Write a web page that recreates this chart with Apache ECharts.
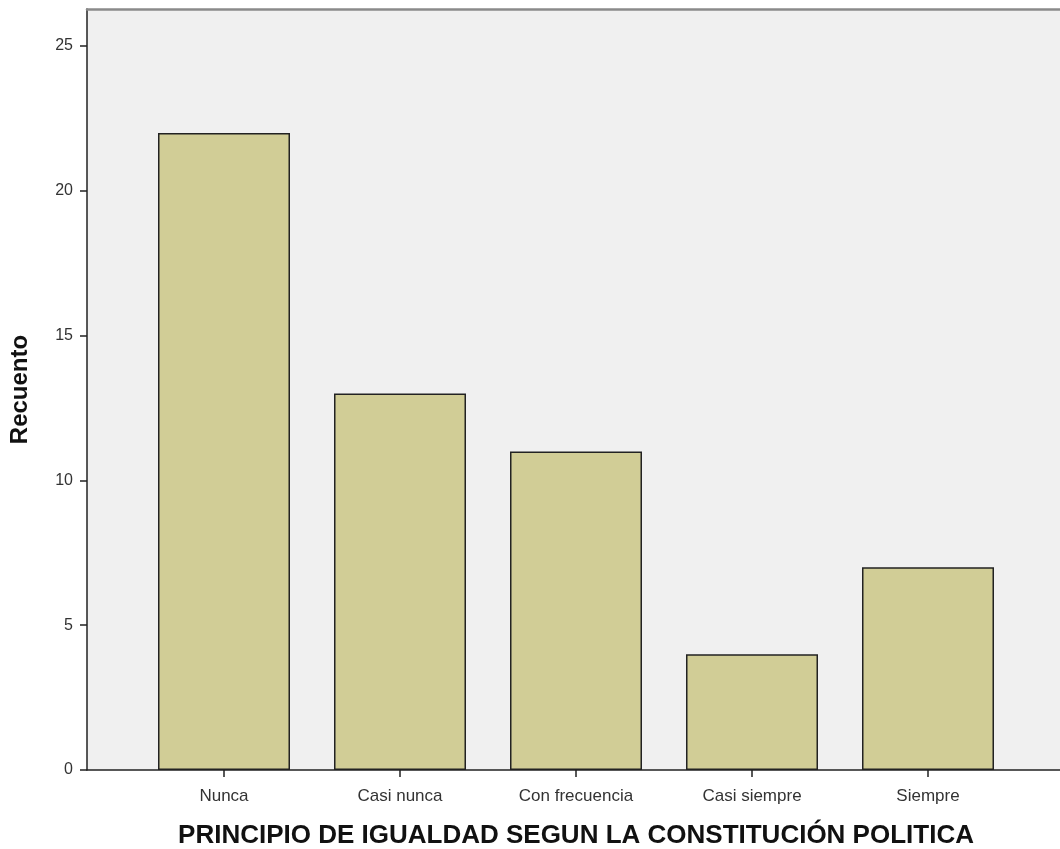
<!DOCTYPE html>
<html><head><meta charset="utf-8">
<script src="https://cdn.jsdelivr.net/npm/echarts@6/dist/echarts.min.js"></script>
<style>html,body{margin:0;padding:0;background:#fff}#c{width:1060px;height:849px}</style>
</head><body><div id="c"></div>
<script>
const categories = ['Nunca', 'Casi nunca', 'Con frecuencia', 'Casi siempre', 'Siempre'];
const counts = [22, 13, 11, 4, 7];
const yTicks = [0, 5, 10, 15, 20, 25];
const yMax = 26.28;
const xTitle = 'PRINCIPIO DE IGUALDAD SEGUN LA CONSTITUCIÓN POLITICA';
const yTitle = 'Recuento';

const chart = echarts.init(document.getElementById('c'));
const font = 'Liberation Sans, Arial, sans-serif';
chart.setOption({
  animation: false,
  grid: [
    {left: 136, right: 44, top: 9, bottom: 79, show: false, containLabel: false, outerBoundsMode: 'none'},
    {left: 87, right: -5, top: 9, bottom: 79, show: true, backgroundColor: '#f0f0f0', borderWidth: 0, z: 0, containLabel: false, outerBoundsMode: 'none'}
  ],
  xAxis: [
    {type: 'category', gridIndex: 0, data: categories,
     axisLine: {show: false},
     axisTick: {show: true, alignWithLabel: true, length: 7, lineStyle: {color: '#222', width: 1.5}},
     axisLabel: {color: '#333', fontFamily: font, fontSize: 17, margin: 18}},
    {type: 'value', gridIndex: 1, min: 0, max: 1,
     axisLine: {show: true, onZero: false, lineStyle: {color: '#222', width: 1.5}},
     axisTick: {show: false}, axisLabel: {show: false}, splitLine: {show: false},
     name: xTitle, nameLocation: 'middle', nameGap: 53,
     nameTextStyle: {fontFamily: font, fontSize: 26, fontWeight: 'bold', color: '#111'}},
    {type: 'value', gridIndex: 1, min: 0, max: 1, position: 'top',
     axisLine: {show: true, onZero: false, lineStyle: {color: '#8a8a8a', width: 2.5}},
     axisTick: {show: false}, axisLabel: {show: false}, splitLine: {show: false}}
  ],
  yAxis: [
    {type: 'value', gridIndex: 0, min: 0, max: yMax, show: false, splitLine: {show: false}},
    {type: 'value', gridIndex: 1, min: 0, max: yMax,
     axisLine: {show: true, lineStyle: {color: '#222', width: 1.5}},
     axisTick: {show: true, length: 7, customValues: yTicks, lineStyle: {color: '#222', width: 1.5}},
     axisLabel: {show: true, customValues: yTicks, color: '#333', fontFamily: font, fontSize: 16, margin: 14},
     splitLine: {show: false},
     name: yTitle, nameLocation: 'middle', nameGap: 55, nameRotate: 90,
     nameTextStyle: {fontFamily: font, fontSize: 24, fontWeight: 'bold', color: '#111'}}
  ],
  series: [{
    type: 'bar', xAxisIndex: 0, yAxisIndex: 0, data: counts, barWidth: 132,
    itemStyle: {color: '#d1cd96', borderColor: '#222', borderWidth: 1.5},
    z: 3
  }]
});
</script></body></html>
